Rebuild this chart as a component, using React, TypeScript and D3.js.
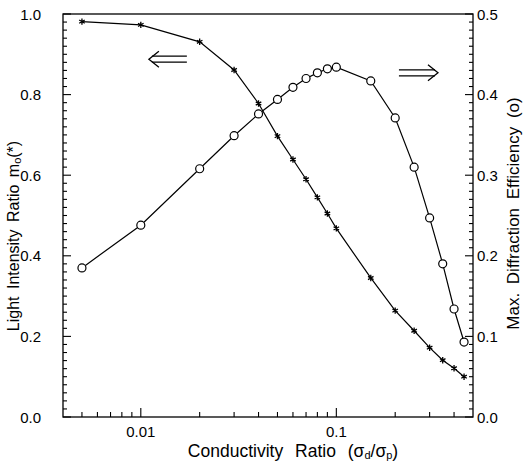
import React from "react";
import * as d3 from "d3";

const conductivity = [0.005, 0.01, 0.02, 0.03, 0.04, 0.05, 0.06, 0.07, 0.08, 0.09, 0.1, 0.15, 0.2, 0.25, 0.3, 0.35, 0.4, 0.45];
const intensity = [0.981, 0.973, 0.931, 0.861, 0.778, 0.697, 0.639, 0.59, 0.545, 0.505, 0.468, 0.345, 0.264, 0.214, 0.172, 0.141, 0.121, 0.1];
const efficiency = [0.185, 0.238, 0.308, 0.349, 0.376, 0.394, 0.409, 0.42, 0.427, 0.432, 0.434, 0.417, 0.371, 0.31, 0.247, 0.19, 0.134, 0.093];

const xMajorTicks = [0.01, 0.1];
const xTickLabels = ["0.01", "0.1"];
const xMinorTicks = [0.005, 0.006, 0.007, 0.008, 0.009, 0.02, 0.03, 0.04, 0.05, 0.06, 0.07, 0.08, 0.09, 0.2, 0.3, 0.4];
const leftMajor = [0, 0.2, 0.4, 0.6, 0.8, 1.0];
const rightMajor = [0, 0.1, 0.2, 0.3, 0.4, 0.5];

const W = 524, H = 464;
const M = { left: 63, right: 473, top: 14, bottom: 417 };
const FONT = "'Liberation Sans', Arial, sans-serif";

export default function App() {
  const x = d3.scaleLog().domain([0.004, 0.5]).range([M.left, M.right]);
  const yL = d3.scaleLinear().domain([0, 1]).range([M.bottom, M.top]);
  const yR = d3.scaleLinear().domain([0, 0.5]).range([M.bottom, M.top]);

  const lineL = d3.line<number>().x((_, i) => x(conductivity[i])).y((d) => yL(d));
  const lineR = d3.line<number>().x((_, i) => x(conductivity[i])).y((d) => yR(d));

  const leftMinor = d3.range(0, 51).map((i) => i * 0.02);
  const rightMinor = d3.range(0, 51).map((i) => i * 0.01);

  const star = (cx: number, cy: number, k: number) => {
    const r = 3.2;
    const segs = [0, 60, 120].map((a) => {
      const t = (a * Math.PI) / 180;
      return `M${cx - r * Math.sin(t)},${cy - r * Math.cos(t)}L${cx + r * Math.sin(t)},${cy + r * Math.cos(t)}`;
    });
    return <path key={k} d={segs.join("")} stroke="#000" strokeWidth={1.3} fill="none" />;
  };

  // arrows (annotation), positioned through scales
  const lax1 = x(0.011), lax2 = x(0.0172), lay = yL(0.888);
  const rax1 = x(0.209), rax2 = x(0.331), ray = yL(0.854);

  return (
    <svg width={W} height={H} style={{ position: "absolute", left: 0, top: 0, background: "#fff" }} fontFamily={FONT}>
      <rect x={0} y={0} width={W} height={H} fill="#fff" />
      {/* frame */}
      <rect x={M.left} y={M.top} width={M.right - M.left} height={M.bottom - M.top} fill="none" stroke="#000" strokeWidth={1.3} />
      {/* left ticks */}
      {leftMinor.map((v, i) => {
        const major = i % 10 === 0;
        return <line key={"lm" + i} x1={M.left} x2={M.left + (major ? 8 : 4)} y1={yL(v)} y2={yL(v)} stroke="#000" strokeWidth={1.1} />;
      })}
      {leftMajor.map((v) => (
        <text key={"lt" + v} x={M.left - 22} y={yL(v)} textAnchor="end" dominantBaseline="central" fontSize={15}>{v.toFixed(1)}</text>
      ))}
      {/* right ticks */}
      {rightMinor.map((v, i) => {
        const major = i % 10 === 0;
        return <line key={"rm" + i} x1={M.right} x2={M.right - (major ? 8 : 4)} y1={yR(v)} y2={yR(v)} stroke="#000" strokeWidth={1.1} />;
      })}
      {rightMajor.map((v) => (
        <text key={"rt" + v} x={M.right + 4} y={yR(v)} textAnchor="start" dominantBaseline="central" fontSize={15}>{v.toFixed(1)}</text>
      ))}
      {/* bottom ticks */}
      {xMinorTicks.map((v) => (
        <line key={"xm" + v} x1={x(v)} x2={x(v)} y1={M.bottom} y2={M.bottom - 5} stroke="#000" strokeWidth={1.1} />
      ))}
      {xMajorTicks.map((v, i) => (
        <g key={"xM" + v}>
          <line x1={x(v)} x2={x(v)} y1={M.bottom} y2={M.bottom - 9} stroke="#000" strokeWidth={1.1} />
          <text x={x(v)} y={M.bottom + 14} textAnchor="middle" dominantBaseline="central" fontSize={15}>{xTickLabels[i]}</text>
        </g>
      ))}
      {/* axis titles */}
      <text x={293} y={451} textAnchor="middle" dominantBaseline="central" fontSize={17.5} wordSpacing={7}>
        Conductivity Ratio (σ<tspan fontSize={11} dy={4}>d</tspan><tspan dy={-4}>/σ</tspan><tspan fontSize={11} dy={4}>p</tspan><tspan dy={-4}>)</tspan>
      </text>
      <text transform={`translate(13,236) rotate(-90)`} textAnchor="middle" dominantBaseline="central" fontSize={16} wordSpacing={3}>
        Light Intensity Ratio m<tspan fontSize={11} dy={4}>o</tspan><tspan dy={-4}>(*)</tspan>
      </text>
      <text transform={`translate(513,${(M.top + M.bottom) / 2 - 2}) rotate(-90)`} textAnchor="middle" dominantBaseline="central" fontSize={17} wordSpacing={4}>
        Max. Diffraction Efficiency (o)
      </text>
      {/* series */}
      <path d={lineL(intensity) || ""} fill="none" stroke="#000" strokeWidth={1.2} />
      <path d={lineR(efficiency) || ""} fill="none" stroke="#000" strokeWidth={1.2} />
      {intensity.map((v, i) => star(x(conductivity[i]), yL(v), i))}
      {efficiency.map((v, i) => (
        <circle key={"c" + i} cx={x(conductivity[i])} cy={yR(v)} r={4} fill="#fff" stroke="#000" strokeWidth={1.2} />
      ))}
      {/* arrows */}
      <g stroke="#000" fill="none" strokeWidth={1.3}>
        <path d={`M${lax1 + 3},${lay - 3}L${lax2},${lay - 3}M${lax1 + 3},${lay + 3}L${lax2},${lay + 3}`} />
        <path d={`M${lax1 + 10},${lay - 8}L${lax1},${lay}L${lax1 + 10},${lay + 8}`} />
        <path d={`M${rax1},${ray - 3}L${rax2 - 3},${ray - 3}M${rax1},${ray + 3}L${rax2 - 3},${ray + 3}`} />
        <path d={`M${rax2 - 10},${ray - 8}L${rax2},${ray}L${rax2 - 10},${ray + 8}`} />
      </g>
    </svg>
  );
}
